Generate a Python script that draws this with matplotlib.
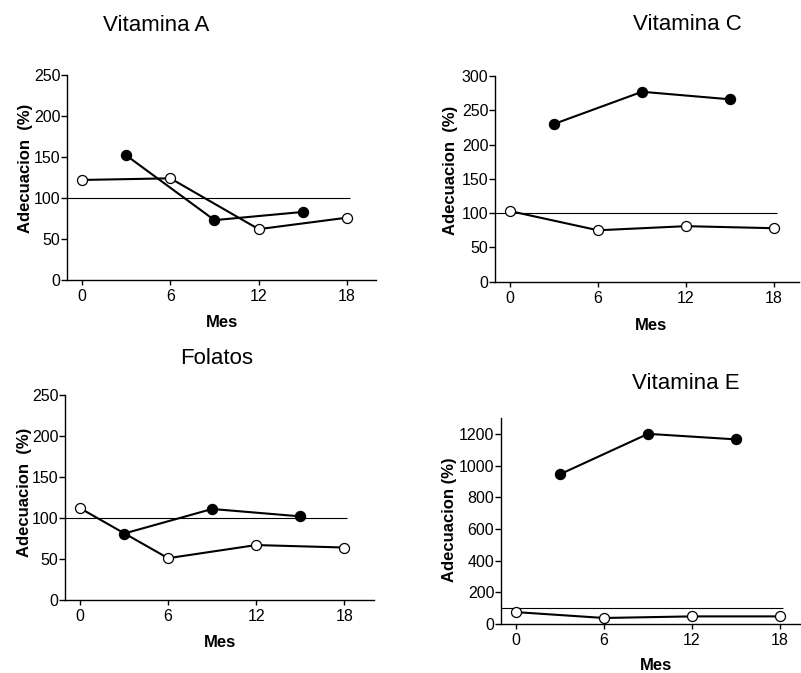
import matplotlib
matplotlib.use("Agg")
import matplotlib.pyplot as plt

plt.rcParams.update({
    "font.family": ["Liberation Sans", "DejaVu Sans"],
    "axes.linewidth": 1.0,
    "xtick.direction": "out", "ytick.direction": "out",
    "xtick.major.size": 3.8, "ytick.major.size": 4.2,
    "xtick.major.width": 1.0, "ytick.major.width": 1.0,
    "xtick.labelsize": 11.5, "ytick.labelsize": 11.5,
    "xtick.major.pad": 3.0, "ytick.major.pad": 0.8,
})

# ---------------- data ----------------
mes_open = [0, 6, 12, 18]
mes_fill = [3, 9, 15]
ref = 100

vitA_open = [122, 124, 62, 76]
vitA_fill = [152, 73, 83]
vitC_open = [103, 75, 81, 78]
vitC_fill = [230, 277, 266]
fol_open  = [112, 51, 67, 64]
fol_fill  = [81, 111, 102]
vitE_open = [75, 38, 48, 48]
vitE_fill = [945, 1200, 1165]

W, H = 801, 673
fig = plt.figure(figsize=(W / 100, H / 100), dpi=100)

# panel geometry in pixels: left, right, top, bottom
panels = [
    dict(title="Vitamina A", tpos=(156, 31), px=(67.3, 376.4, 75, 280), xlim=(-1, 20),
         ylim=(0, 250), yt=range(0, 251, 50), op=vitA_open, fi=vitA_fill,
         ylab="Adecuacion  (%)", ylc=(-0.111, 0.546), xlc=(0.5, -0.171)),
    dict(title="Vitamina C", tpos=(687, 30), px=(495.3, 799, 76, 281.7), xlim=(-1, 19.7),
         ylim=(0, 300), yt=range(0, 301, 50), op=vitC_open, fi=vitC_fill,
         ylab="Adecuacion  (%)", ylc=(-0.123, 0.539), xlc=(0.512, -0.175)),
    dict(title="Folatos", tpos=(217, 364), px=(65.3, 373.6, 395, 600), xlim=(-1, 20),
         ylim=(0, 250), yt=range(0, 251, 50), op=fol_open, fi=fol_fill,
         ylab="Adecuacion  (%)", ylc=(-0.109, 0.524), xlc=(0.502, -0.171)),
    dict(title="Vitamina E", tpos=(686, 389), px=(501.3, 800, 418, 624), xlim=(-1, 19.36),
         ylim=(0, 1300), yt=range(0, 1201, 200), op=vitE_open, fi=vitE_fill,
         ylab="Adecuacion (%)", ylc=(-0.148, 0.505), xlc=(0.518, -0.165)),
]

for p in panels:
    l, r, t, b = p["px"]
    ax = fig.add_axes([l / W, (H - b) / H, (r - l) / W, (b - t) / H])
    ax.hlines(ref, p["xlim"][0], 18.2, color="black", lw=0.8, zorder=1)
    ax.plot(mes_open, p["op"], "-o", color="black", lw=1.5, ms=7.2,
            mfc="white", mec="black", mew=0.9, zorder=3, clip_on=False)
    ax.plot(mes_fill, p["fi"], "-o", color="black", lw=1.5, ms=7.2,
            mfc="black", mec="black", zorder=4, clip_on=False)
    ax.set_xlim(p["xlim"]); ax.set_ylim(p["ylim"])
    ax.set_xticks(mes_open); ax.set_yticks(list(p["yt"]))
    for s in ("top", "right"):
        ax.spines[s].set_visible(False)
    ax.set_ylabel(p["ylab"], fontsize=12, fontweight="bold")
    ax.yaxis.set_label_coords(*p["ylc"])
    ax.set_xlabel("Mes", fontsize=12, fontweight="bold")
    ax.xaxis.set_label_coords(*p["xlc"])
    fig.text(p["tpos"][0] / W, 1 - p["tpos"][1] / H, p["title"], fontsize=16,
             ha="center", va="baseline")

fig.savefig("out.png", dpi=100)
